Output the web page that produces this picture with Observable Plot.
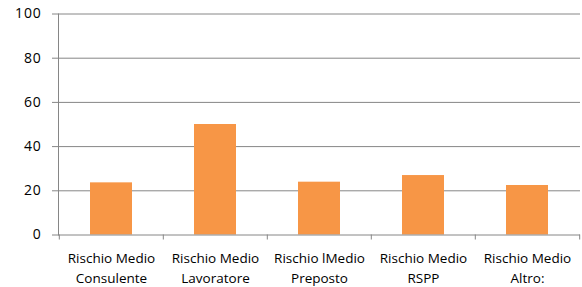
<!DOCTYPE html>
<html><head><meta charset="utf-8">
<script src="https://cdn.jsdelivr.net/npm/d3@7"></script>
<script src="https://cdn.jsdelivr.net/npm/@observablehq/plot@0.6"></script>
<style>
body{margin:0;background:#fff}
svg{display:block}
#chart svg text{font-size:13.5px;font-family:'Open Sans',sans-serif;}
#chart svg .ylab text{font-size:14px;letter-spacing:0.8px;}
</style>
</head><body><div id="chart"></div>
<script>
const categories = ["Rischio Medio\nConsulente","Rischio Medio\nLavoratore","Rischio lMedio\nPreposto","Rischio Medio\nRSPP","Rischio Medio\nAltro:"];
const values = [23.6, 50, 23.9, 26.9, 22.4];
const yTicks = [0, 20, 40, 60, 80, 100];
const gridTicks = [20, 40, 60, 80, 100];
const data = categories.map((c, i) => ({category: c, value: values[i]}));

const W = 582, H = 287, mL = 58, mR = 2;
const step = (W - mL - mR) / categories.length;
const gray = "#868686";
const fs = 13.5;
const chart = Plot.plot({
  width: W, height: H,
  marginLeft: mL, marginRight: mR, marginTop: 13.5, marginBottom: 52.5,
  style: {fontFamily: "'Open Sans', sans-serif", fontSize: fs + "px", color: "#000", background: "#fff"},
  x: {domain: categories, paddingInner: 0.6, paddingOuter: 0.3},
  y: {domain: [0, 100]},
  marks: [
    Plot.gridY(gridTicks, {stroke: gray, strokeOpacity: 1}),
    Plot.barY(data, {x: "category", y: "value", fill: "#F79646"}),
    Plot.ruleY([0], {stroke: gray}),
    Plot.frame({anchor: "left", stroke: gray}),
    Plot.axisY(yTicks, {tickSize: 6, tickPadding: 11, stroke: gray, fill: "#000", fontSize: 14, className: "ylab", label: null}),
    Plot.axisX({tickSize: 5, tickFormat: () => "", dx: -step / 2, stroke: gray, label: null}),
    Plot.axisX([categories[categories.length - 1]], {tickSize: 5, tickFormat: () => "", dx: step / 2, stroke: gray, label: null}),
    Plot.axisX({tickSize: 0, tickPadding: 14, lineHeight: 1.48, fill: "#000", fontSize: fs, label: null})
  ]
});
document.getElementById("chart").append(chart);
</script>
</body></html>
